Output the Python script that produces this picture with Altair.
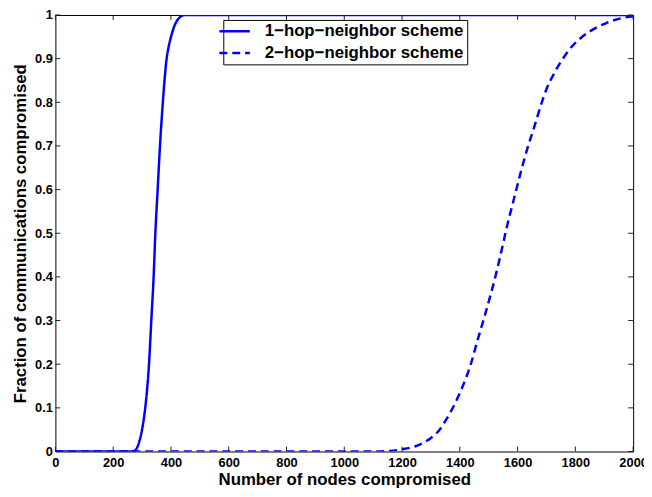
import altair as alt
import pandas as pd

# ---- data ----
one_hop_x = [0, 260, 277, 287, 301, 311, 324, 332, 340, 346, 354, 362, 372, 379, 385, 392, 401, 412, 424, 435, 447, 2000]
one_hop_y = [0, 0, 0.003, 0.016, 0.054, 0.10, 0.20, 0.30, 0.40, 0.50, 0.60, 0.70, 0.80, 0.86, 0.90, 0.927, 0.952, 0.975, 0.99, 0.997, 1.0, 1.0]

two_hop_x = [0, 1100, 1150, 1200, 1250, 1279, 1300, 1330, 1350, 1370, 1404, 1438, 1461, 1484, 1507, 1524, 1546,
             1563, 1586, 1609, 1632, 1655, 1683, 1700, 1723, 1757, 1791, 1820, 1849, 1905, 1962, 2000]
two_hop_y = [0, 0, 0.001, 0.005, 0.013, 0.022, 0.031, 0.05, 0.07, 0.093, 0.14, 0.20, 0.254, 0.306, 0.36, 0.403, 0.465,
             0.515, 0.575, 0.635, 0.69, 0.738, 0.798, 0.83, 0.862, 0.90, 0.93, 0.948, 0.962, 0.981, 0.993, 0.997]

series_names = ["1\u2212hop\u2212neighbor scheme", "2\u2212hop\u2212neighbor scheme"]

x_ticks = list(range(0, 2001, 200))
y_ticks = [round(i * 0.1, 1) for i in range(11)]

W, H = 585, 442
FONT = "Liberation Sans"

df = pd.concat([
    pd.DataFrame({"nodes": one_hop_x, "frac": one_hop_y, "scheme": series_names[0], "order": range(len(one_hop_x))}),
    pd.DataFrame({"nodes": two_hop_x, "frac": two_hop_y, "scheme": series_names[1], "order": range(len(two_hop_x))}),
])

xscale = alt.Scale(domain=[0, 2000], nice=False, zero=False)
yscale = alt.Scale(domain=[0, 1], nice=False)

lines = alt.Chart(df).mark_line(strokeWidth=2.5, interpolate="monotone", clip=True).encode(
    x=alt.X("nodes:Q", scale=xscale,
            axis=alt.Axis(title="Number of nodes compromised", values=x_ticks, format="d",
                          grid=False, ticks=False, tickSize=0, domain=False, labelFlush=False,
                          labelPadding=5, titlePadding=2, labelOverlap=False)),
    y=alt.Y("frac:Q", scale=yscale,
            axis=alt.Axis(title="Fraction of communications compromised", values=y_ticks,
                          labelExpr="datum.value == 0 ? '0' : datum.value == 1 ? '1' : format(datum.value, '.1f')",
                          grid=False, ticks=False, tickSize=0, domain=False, labelFlush=False,
                          labelPadding=3, titlePadding=5, labelOverlap=False)),
    color=alt.Color("scheme:N", scale=alt.Scale(domain=series_names, range=["#0000ff", "#0000ff"]),
                    legend=alt.Legend(title=None, orient="none", legendX=170, legendY=5,
                                      symbolType="M-4.4,0H4.4", symbolSize=49, symbolStrokeWidth=2.5,
                                      labelFont=FONT, labelFontSize=17, labelFontWeight="bold",
                                      labelColor="black", labelOffset=22, labelLimit=0,
                                      padding=3, rowPadding=4, strokeColor="black", fillColor="white",
                                      cornerRadius=0)),
    strokeDash=alt.StrokeDash("scheme:N", scale=alt.Scale(domain=series_names, range=[[1, 0], [8, 5]]),
                              legend=None),
    order="order:Q",
)

tickdf_x = pd.DataFrame({"t": x_ticks})
tickdf_y = pd.DataFrame({"t": y_ticks})

xt_bottom = alt.Chart(tickdf_x).mark_rule(color="#222", strokeWidth=1).encode(
    x=alt.X("t:Q", scale=xscale), y=alt.value(H), y2=alt.value(H - 5))
xt_top = alt.Chart(tickdf_x).mark_rule(color="#222", strokeWidth=1).encode(
    x=alt.X("t:Q", scale=xscale), y=alt.value(0), y2=alt.value(5))
yt_left = alt.Chart(tickdf_y).mark_rule(color="#222", strokeWidth=1).encode(
    y=alt.Y("t:Q", scale=yscale), x=alt.value(0), x2=alt.value(5))
yt_right = alt.Chart(tickdf_y).mark_rule(color="#222", strokeWidth=1).encode(
    y=alt.Y("t:Q", scale=yscale), x=alt.value(W - 5), x2=alt.value(W))

chart = alt.layer(xt_bottom, xt_top, yt_left, yt_right, lines).properties(
    width=W, height=H,
    autosize=alt.AutoSizeParams(type="none"),
    padding={"left": 48, "top": 4, "right": 11, "bottom": 43},
    background="white",
).configure_view(
    stroke="black", strokeWidth=1
).configure_axis(
    labelFont=FONT, labelFontSize=13, labelFontWeight="bold", labelColor="black",
    titleFont=FONT, titleFontSize=17, titleFontWeight="bold", titleColor="black",
)

chart.save("out.html", embed_options={"renderer": "svg", "actions": False})
